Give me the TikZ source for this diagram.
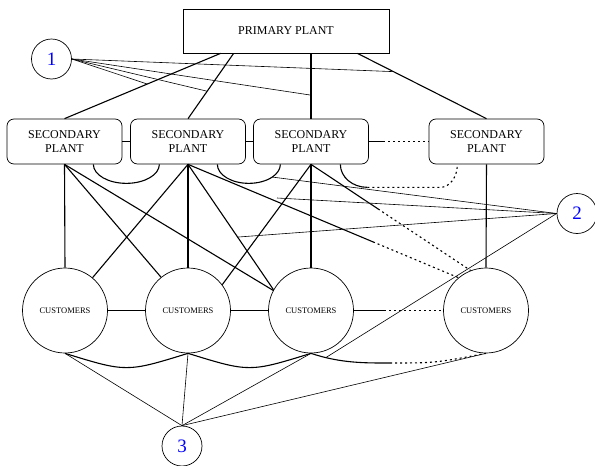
\documentclass[tikz,border=0pt]{standalone}
\usepackage{fontspec}
\setmainfont{Liberation Serif}
\usetikzlibrary{calc}
\begin{document}
\begin{tikzpicture}[x=1pt,y=-1pt,
  box/.style={draw,line width=0.7pt,align=center,inner sep=0pt,font=\fontsize{12}{14}\selectfont},
  pbox/.style={box,minimum width=206pt,minimum height=44pt},
  sbox/.style={box,rounded corners=7pt,minimum width=115pt,minimum height=45pt},
  cust/.style={draw,circle,line width=0.7pt,inner sep=0pt,minimum size=85pt,font=\fontsize{8.5}{9}\selectfont},
  numc/.style={draw,circle,line width=0.7pt,inner sep=0pt,minimum size=40pt,text=blue,font=\fontsize{19}{19}\selectfont},
  link/.style={line width=1.1pt},
  dlink/.style={line width=1.1pt,dash pattern=on 2pt off 3pt},
  thin link/.style={line width=0.6pt}]
\useasboundingbox (0,0) rectangle (595,466);

% nodes
\node[pbox] (pp) at (286,31) {PRIMARY PLANT};
\node[sbox] (sp1) at (64.5,141.5) {SECONDARY\\PLANT};
\node[sbox] (sp2) at (188,141.5) {SECONDARY\\PLANT};
\node[sbox] (sp3) at (311,141.5) {SECONDARY\\PLANT};
\node[sbox] (sp4) at (486.5,141.5) {SECONDARY\\PLANT};
\node[cust] (c1) at (65,310.5) {CUSTOMERS};
\node[cust] (c2) at (188,310.5) {CUSTOMERS};
\node[cust] (c3) at (311,310.5) {CUSTOMERS};
\node[cust] (c4) at (486,310.5) {CUSTOMERS};
\node[numc] (n1) at (51.5,59) {1};
\node[numc] (n2) at (577,213.5) {2};
\node[numc] (n3) at (182,446) {3};

% primary to secondary
\draw[link] ([xshift=38pt]pp.south west) -- coordinate[pos=0.47] (p1) (sp1.north);
\draw[link] ([xshift=51pt]pp.south west) -- coordinate[pos=0.58] (p2) (sp2.north);
\draw[link] (pp.south -| sp3.north) -- coordinate[pos=0.64] (p3) (sp3.north);
\draw[link] ([xshift=-32pt]pp.south east) -- coordinate[pos=0.28] (p4) (sp4.north);

% secondary to secondary
\draw[link] (sp1.east) -- (sp2.west);
\draw[link] (sp2.east) -- (sp3.west);
\path (sp3.east) -- coordinate[pos=0.24] (s34) (sp4.west);
\draw[link] (sp3.east) -- (s34);
\draw[dlink] (s34) -- (sp4.west);
\draw[link] ([xshift=-29pt]sp1.south east) arc[start angle=180,end angle=360,x radius=33pt,y radius=19pt];
\draw[link] ([xshift=-28.5pt]sp2.south east) arc[start angle=180,end angle=318,x radius=31.5pt,y radius=19pt] coordinate (a23)
  arc[start angle=318,end angle=360,x radius=31.5pt,y radius=19pt];
\draw[link] ([xshift=-28.5pt]sp3.south east) arc[start angle=180,end angle=270,x radius=27pt,y radius=23pt] coordinate (a34);
\draw[dlink] (a34) -- ++(73,0) arc[start angle=270,end angle=360,x radius=17pt,y radius=23pt];

% secondary to customers
\draw[link] (sp1.south) -- (c1.north);
\draw[link] (sp1.south) -- (c2.129);
\draw[link] (sp1.south) -- (c3.152);
\draw[link] (sp2.south) -- (c1.50);
\draw[link] (sp2.south) -- (c2.north);
\draw[link] (sp2.south) -- coordinate[pos=0.58] (q23) (c3.151);
\path (sp2.south) -- coordinate[pos=0.684] (q24) (c4.130);
\draw[link] (sp2.south) -- (q24);
\draw[dlink] (q24) -- (c4.130);
\draw[link] (sp3.south) -- (c2.37);
\draw[link] (sp3.south) -- (c3.north);
\path (sp3.south) -- coordinate[pos=0.42] (q34) (c4.111);
\draw[link] (sp3.south) -- (q34);
\draw[dlink] (q34) -- (c4.111);
\draw[link] (sp4.south) -- (c4.north);

% customers to customers
\draw[link] (c1.east) -- (c2.west);
\draw[link] (c2.east) -- (c3.west);
\path (c3.east) -- coordinate[pos=0.34] (t34) (c4.west);
\draw[link] (c3.east) -- (t34);
\draw[dlink] (t34) -- (c4.west);
\draw[link] (c1.south) .. controls ($(c1.south)!0.5!(c2.south)+(0,19)$) .. (c2.south);
\draw[link] (c2.south) .. controls ($(c2.south)!0.5!(c3.south)+(0,19)$) .. (c3.south);
\coordinate (m34) at (390,363);
\draw[link] (c3.south) .. controls +(30,10) and +(-25,0) .. coordinate[pos=0.17] (d34) (m34);
\draw[dlink] (m34) .. controls +(45,0) .. (c4.south);

% label 1
\draw[thin link] (n1.east) -- (p1);
\draw[thin link] (n1.east) -- (p2);
\draw[thin link] (n1.east) -- (p3);
\draw[thin link] (n1.east) -- (p4);

% label 2
\coordinate (b2) at (277,198);
\draw[thin link] (n2.west) -- (a23);
\draw[thin link] (n2.west) -- (b2);
\draw[thin link] (n2.west) -- (q23);
\draw[thin link] (n2.west) -- (d34);

% label 3
\draw[thin link] (n3.north) -- (c1.south);
\draw[thin link] (n3.north) -- (c2.south);
\draw[thin link] (n3.north) -- (c3.south);
\draw[thin link] (n3.north) -- (c4.south);
\end{tikzpicture}
\end{document}
